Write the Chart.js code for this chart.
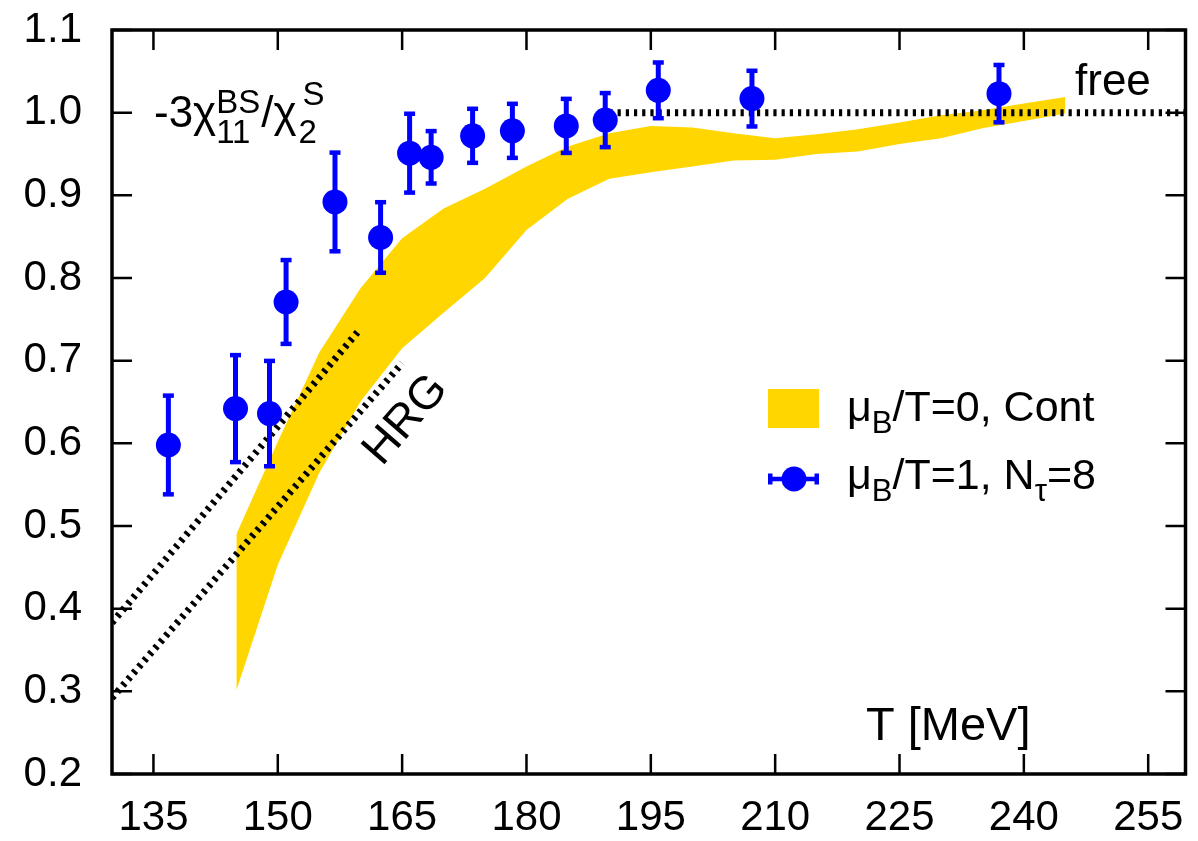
<!DOCTYPE html>
<html lang="en">
<head>
  <meta charset="UTF-8" />
  <title>-3χ11BS/χ2S vs T</title>
  <script src="https://cdn.jsdelivr.net/npm/chart.js"></script>
  <style>
    body { margin: 0; background: #fff; }
    .wrap { width: 1198px; height: 841px; position: relative; }
  </style>
</head>
<body>
  <div class="wrap"><canvas id="chart"></canvas></div>

  <script>
    // continuum band, mu_B/T = 0 (lower / upper edge)
    const bandT    = [145, 150, 155, 160, 165, 170, 175, 180, 185, 190, 195, 200, 205, 210, 215, 220, 225, 230, 235, 240, 245];
    const bandHigh = [0.490, 0.602, 0.710, 0.788, 0.848, 0.884, 0.908, 0.935, 0.959, 0.975, 0.984, 0.982, 0.975, 0.969, 0.974, 0.980, 0.988, 0.997, 1.003, 1.011, 1.019];
    const bandLow  = [0.301, 0.453, 0.564, 0.651, 0.715, 0.758, 0.800, 0.858, 0.896, 0.920, 0.928, 0.935, 0.942, 0.943, 0.950, 0.953, 0.962, 0.969, 0.981, 0.990, 0.999];

    // lattice points, mu_B/T = 1, N_tau = 8
    const latT   = [136.8, 144.9, 149.0, 151.0, 156.9, 162.4, 165.9, 168.5, 173.5, 178.3, 184.8, 189.5, 195.9, 207.2, 237.0];
    const latVal = [0.598, 0.642, 0.636, 0.771, 0.892, 0.849, 0.951, 0.946, 0.972, 0.978, 0.984, 0.991, 1.027, 1.017, 1.023];
    const latErr = [0.060, 0.065, 0.064, 0.051, 0.060, 0.043, 0.048, 0.032, 0.033, 0.033, 0.033, 0.033, 0.034, 0.034, 0.035];

    // HRG lines and free limit
    const hrgUpT = [130, 160],  hrgUpVal = [0.383, 0.739];
    const hrgLoT = [130, 165],  hrgLoVal = [0.292, 0.697];
    const freeT  = [190, 259.5], freeVal = [1.0, 1.0];

    const xTicks = [135, 150, 165, 180, 195, 210, 225, 240, 255];
    const yTicks = [0.2, 0.3, 0.4, 0.5, 0.6, 0.7, 0.8, 0.9, 1.0, 1.1];

    const FONT = "'Liberation Sans', Arial, Helvetica, sans-serif";
    const BLUE = '#0000ff';
    const GOLD = '#ffd600';

    const pts = (xs, ys) => xs.map((x, i) => ({ x: x, y: ys[i] }));

    const dotted = (xs, ys) => ({
      data: pts(xs, ys),
      borderColor: '#000',
      borderWidth: 7,
      borderDash: [3.2, 5],
      borderCapStyle: 'butt',
      pointRadius: 0,
      fill: false,
      order: 2
    });

    // error bars go under the circles
    const errorBars = {
      id: 'errorBars',
      beforeDatasetDraw(chart, args) {
        if (args.index !== 5) return;
        const { ctx, scales: { x, y } } = chart;
        ctx.save();
        ctx.strokeStyle = BLUE;
        ctx.fillStyle = BLUE;
        ctx.lineWidth = 5;
        latT.forEach((t, i) => {
          const px = x.getPixelForValue(t);
          const top = y.getPixelForValue(latVal[i] + latErr[i]);
          const bot = y.getPixelForValue(latVal[i] - latErr[i]);
          ctx.beginPath();
          ctx.moveTo(px, top);
          ctx.lineTo(px, bot);
          ctx.stroke();
          ctx.fillRect(px - 5.5, top - 2, 11, 4.5);
          ctx.fillRect(px - 5.5, bot - 2.5, 11, 4.5);
        });
        ctx.restore();
      }
    };

    // frame with inward ticks on all four sides
    const frame = {
      id: 'frame',
      afterDatasetsDraw(chart) {
        const { ctx, chartArea: a, scales: { x, y } } = chart;
        ctx.save();
        ctx.strokeStyle = '#000';
        ctx.lineWidth = 2.5;
        const tl = 20;
        xTicks.forEach(v => {
          const px = x.getPixelForValue(v);
          ctx.beginPath();
          ctx.moveTo(px, a.bottom); ctx.lineTo(px, a.bottom - tl);
          ctx.moveTo(px, a.top); ctx.lineTo(px, a.top + tl);
          ctx.stroke();
        });
        yTicks.forEach(v => {
          const py = y.getPixelForValue(v);
          ctx.beginPath();
          ctx.moveTo(a.left, py); ctx.lineTo(a.left + tl, py);
          ctx.moveTo(a.right, py); ctx.lineTo(a.right - tl, py);
          ctx.stroke();
        });
        ctx.lineWidth = 3.5;
        ctx.strokeRect(a.left, a.top, a.right - a.left, a.bottom - a.top);
        ctx.restore();
      }
    };

    // writes a run of [text, size, dy] pieces left to right
    function runText(ctx, x, y, parts) {
      parts.forEach(p => {
        ctx.font = p[1] + 'px ' + FONT;
        ctx.fillText(p[0], x, y + p[2]);
        x += ctx.measureText(p[0]).width;
      });
      return x;
    }

    const labels = {
      id: 'labels',
      afterDraw(chart) {
        const { ctx } = chart;
        ctx.save();
        ctx.fillStyle = '#000';
        ctx.textBaseline = 'alphabetic';
        ctx.textAlign = 'left';

        // observable
        let cx = runText(ctx, 154, 127, [['-3\u03c7', 44, 0]]);
        ctx.font = '33px ' + FONT;
        ctx.fillText('BS', cx, 113);
        ctx.fillText('11', cx, 143);
        cx += Math.max(ctx.measureText('BS').width, ctx.measureText('11').width) + 1;
        cx = runText(ctx, cx, 127, [['/\u03c7', 44, 0]]);
        ctx.font = '33px ' + FONT;
        ctx.fillText('S', cx + 6, 105);
        ctx.fillText('2', cx + 2, 143);

        ctx.font = '44px ' + FONT;
        ctx.fillText('free', 1075, 95);

        ctx.font = '47px ' + FONT;
        ctx.fillText('T [MeV]', 866, 740);

        // HRG label along the lines
        ctx.save();
        ctx.translate(406, 420);
        ctx.rotate(-49 * Math.PI / 180);
        ctx.font = '46px ' + FONT;
        ctx.textAlign = 'center';
        ctx.textBaseline = 'middle';
        ctx.fillText('HRG', 0, 0);
        ctx.restore();

        // legend
        ctx.fillStyle = GOLD;
        ctx.fillRect(768, 389, 51, 39);
        ctx.fillStyle = BLUE;
        ctx.strokeStyle = BLUE;
        ctx.lineWidth = 4.5;
        ctx.beginPath();
        ctx.moveTo(768, 479); ctx.lineTo(819, 479);
        ctx.stroke();
        ctx.fillRect(768, 473.5, 4.5, 11);
        ctx.fillRect(814.5, 473.5, 4.5, 11);
        ctx.beginPath();
        ctx.arc(794, 479, 12.5, 0, Math.PI * 2);
        ctx.fill();

        ctx.fillStyle = '#000';
        runText(ctx, 847, 421, [['\u03bc', 43, 0], ['B', 31, 12], ['/T=0, Cont', 43, 0]]);
        runText(ctx, 847, 489, [['\u03bc', 43, 0], ['B', 31, 12], ['/T=1, N', 43, 0], ['\u03c4', 31, 12], ['=8', 43, 0]]);
        ctx.restore();
      }
    };

    new Chart(document.getElementById('chart'), {
      type: 'line',
      data: {
        datasets: [
          {
            data: pts(bandT, bandHigh),
            borderWidth: 0,
            pointRadius: 0,
            fill: false,
            order: 3
          },
          {
            data: pts(bandT, bandLow),
            borderWidth: 0,
            pointRadius: 0,
            backgroundColor: GOLD,
            fill: '-1',
            order: 3
          },
          dotted(hrgUpT, hrgUpVal),
          dotted(hrgLoT, hrgLoVal),
          dotted(freeT, freeVal),
          {
            data: pts(latT, latVal),
            showLine: false,
            pointRadius: 12.5,
            pointHoverRadius: 12.5,
            pointBackgroundColor: BLUE,
            pointBorderWidth: 0,
            order: 1
          }
        ]
      },
      options: {
        responsive: true,
        maintainAspectRatio: false,
        animation: false,
        layout: { padding: { top: 30, right: 3, left: 0, bottom: 0 } },
        plugins: {
          legend: { display: false },
          tooltip: { enabled: false }
        },
        scales: {
          x: {
            type: 'linear',
            min: 130,
            max: 259.5,
            afterBuildTicks: s => { s.ticks = xTicks.map(v => ({ value: v })); },
            afterFit: s => { s.height = 67; s.paddingLeft = 0; s.paddingRight = 0; },
            grid: { display: false, drawTicks: false },
            border: { display: false },
            ticks: {
              color: '#000',
              padding: 19,
              maxRotation: 0,
              font: { family: FONT, size: 42 }
            }
          },
          y: {
            min: 0.2,
            max: 1.1,
            afterBuildTicks: s => { s.ticks = yTicks.map(v => ({ value: v })); },
            afterFit: s => { s.width = 112; s.paddingTop = 0; s.paddingBottom = 0; },
            grid: { display: false, drawTicks: false },
            border: { display: false },
            ticks: {
              color: '#000',
              padding: 30,
              font: { family: FONT, size: 42 },
              callback: v => v.toFixed(1)
            }
          }
        }
      },
      plugins: [errorBars, frame, labels]
    });
  </script>
</body>
</html>
